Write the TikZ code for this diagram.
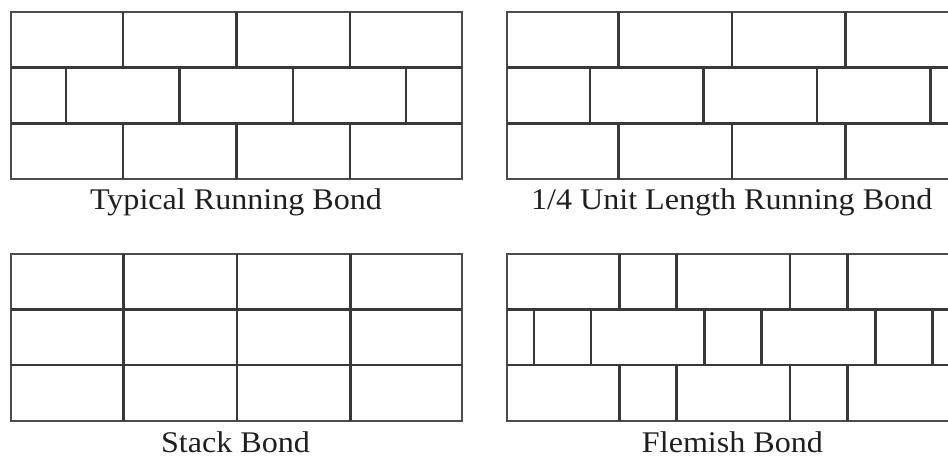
\documentclass[tikz,border=0pt]{standalone}
\usepackage{fontspec}
\usepackage{graphicx}
\setmainfont{Liberation Serif}
\newcommand{\wide}[1]{\scalebox{1.07}[1]{#1}}
\begin{document}
\begin{tikzpicture}[x=1pt,y=-1pt,
  wall/.style={line width=2pt, draw=black!70},
  joint/.style={line width=2.6pt, draw=black!78},
  caption/.style={anchor=base, inner sep=0pt, font=\fontsize{30}{36}\selectfont, text=black!88}]
\clip (0,0) rectangle (948,457);
\fill[white] (0,0) rectangle (948,457);

% ---- Typical running bond ----
\draw[wall] (11,12.3) rectangle (462,179.3);
\draw[joint] (11,67.5) -- (462,67.5) (11,123.3) -- (462,123.3);
\foreach \x in {123,236.5,350} {
  \draw[joint] (\x,12.3) -- (\x,67.5);
  \draw[joint] (\x,123.3) -- (\x,179.3);
}
\foreach \x in {66,179.5,293,406}
  \draw[joint] (\x,67.5) -- (\x,123.3);
\node[caption] (trb) at (236,209.5) {\wide{Typical Running Bond}};

% ---- 1/4 unit length running bond ----
\draw[wall] (960,12.3) -- (506.5,12.3) -- (506.5,179.3) -- (960,179.3);
\draw[joint] (506.5,67.5) -- (960,67.5) (506.5,123.3) -- (960,123.3);
\foreach \x in {618.5,732,845.5} {
  \draw[joint] (\x,12.3) -- (\x,67.5);
  \draw[joint] (\x,123.3) -- (\x,179.3);
}
\foreach \x in {590,703.5,817,930.5}
  \draw[joint] (\x,67.5) -- (\x,123.3);
\node[caption] (qrb) at (731.7,209.5) {\wide{1/4 Unit Length Running Bond}};

% ---- Stack bond ----
\draw[wall] (11,254) rectangle (462,420.7);
\draw[joint] (11,309.5) -- (462,309.5) (11,365) -- (462,365);
\foreach \x in {123.3,237,350.3}
  \draw[joint] (\x,254) -- (\x,420.7);
\node[caption] (sb) at (235.5,452) {\wide{Stack Bond}};

% ---- Flemish bond ----
\draw[wall] (960,254) -- (506.5,254) -- (506.5,420.7) -- (960,420.7);
\draw[joint] (506.5,309.5) -- (960,309.5) (506.5,365) -- (960,365);
\foreach \x in {619.3,676.7,790,847.7} {
  \draw[joint] (\x,254) -- (\x,309.5);
  \draw[joint] (\x,365) -- (\x,420.7);
}
\foreach \x in {534,591,704.3,761.7,875.7,932.7}
  \draw[joint] (\x,309.5) -- (\x,365);
\node[caption] (fb) at (732.5,452) {\wide{Flemish Bond}};
\end{tikzpicture}
\end{document}
